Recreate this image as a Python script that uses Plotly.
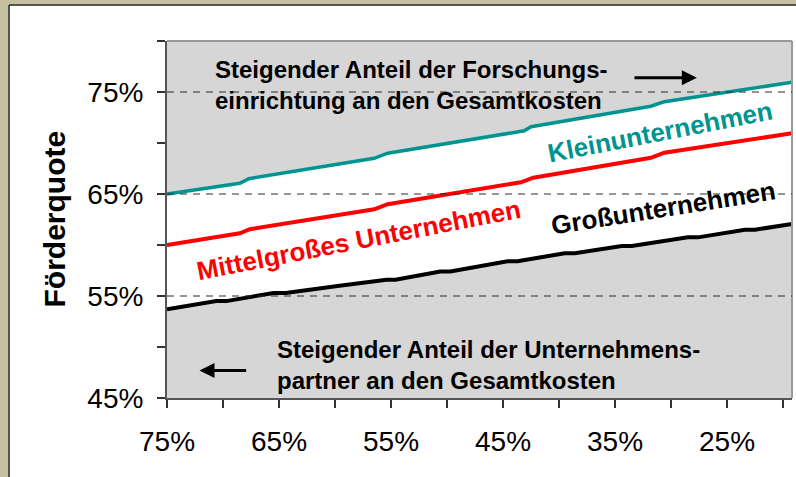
import plotly.graph_objects as go

# ---- data ----
klein_x = [75, 68.5, 67.7, 56.5, 55.3, 43.1, 42.5, 31.8, 30.6, 19.2]
klein_y = [65.0, 66.05, 66.5, 68.5, 69.0, 71.2, 71.6, 73.6, 74.05, 75.95]

mittel_x = [75, 68.5, 67.6, 56.5, 55.3, 43.4, 42.3, 31.8, 30.6, 19.2]
mittel_y = [60.0, 61.15, 61.55, 63.5, 64.0, 66.15, 66.6, 68.55, 69.05, 70.95]

gross_x = [75, 70.6, 69.7, 65.5, 64.4, 60.6, 59.6, 55.4, 54.6, 50.6, 49.7, 44.6, 43.7,
           39.5, 38.6, 34.4, 33.5, 28.5, 27.6, 23.4, 22.5, 19.2]
gross_y = [53.7, 54.5, 54.5, 55.3, 55.3, 55.9, 56.0, 56.6, 56.6, 57.4, 57.4, 58.4, 58.4,
           59.2, 59.2, 59.9, 59.9, 60.75, 60.75, 61.5, 61.5, 62.05]

x_tickvals = [75, 70, 65, 60, 55, 50, 45, 40, 35, 30, 25, 20]
x_ticktext = ["75%", "", "65%", "", "55%", "", "45%", "", "35%", "", "25%", ""]
y_tickvals = [45, 50, 55, 60, 65, 70, 75, 80]
y_ticktext = ["45%", "", "55%", "", "65%", "", "75%", ""]
ref_levels = [55, 65, 75]

x_range = [75, 19.2]
y_range = [45, 80]

TEAL = "#009490"
RED = "#FF0000"
BLACK = "#000000"
GRAY = "#D6D6D6"
FONT = "Liberation Sans, Arial, sans-serif"

fig = go.Figure()

# gray region above Kleinunternehmen
n_k = len(klein_x)
fig.add_trace(go.Scatter(x=klein_x + klein_x[::-1], y=klein_y + [y_range[1]] * n_k,
                         mode="lines", line=dict(color=GRAY, width=0.5),
                         fill="toself", fillcolor=GRAY))
# gray region below Großunternehmen
n_g = len(gross_x)
fig.add_trace(go.Scatter(x=gross_x + gross_x[::-1], y=gross_y + [y_range[0]] * n_g,
                         mode="lines", line=dict(color=GRAY, width=0.5),
                         fill="toself", fillcolor=GRAY))

fig.add_trace(go.Scatter(x=gross_x, y=gross_y, mode="lines",
                         line=dict(color=BLACK, width=4)))
fig.add_trace(go.Scatter(x=mittel_x, y=mittel_y, mode="lines",
                         line=dict(color=RED, width=4)))
fig.add_trace(go.Scatter(x=klein_x, y=klein_y, mode="lines",
                         line=dict(color=TEAL, width=3.5)))

annotations = [
    dict(x=70.9, y=75.7, xref="x", yref="y", xanchor="left", yanchor="middle", align="left",
         text="<b>Steigender Anteil der Forschungs-<br>einrichtung an den Gesamtkosten</b>",
         showarrow=False, font=dict(size=24, color="black", family=FONT)),
    dict(x=65.4, y=48.2, xref="x", yref="y", xanchor="left", yanchor="middle", align="left",
         text="<b>Steigender Anteil der Unternehmens-<br>partner an den Gesamtkosten</b>",
         showarrow=False, font=dict(size=24, color="black", family=FONT)),
    # arrows
    dict(x=27.7, y=76.4, ax=33.4, ay=76.4, xref="x", yref="y", axref="x", ayref="y",
         showarrow=True, arrowhead=2, arrowsize=1, arrowwidth=3, arrowcolor="black", text=""),
    dict(x=72.1, y=47.7, ax=67.8, ay=47.7, xref="x", yref="y", axref="x", ayref="y",
         showarrow=True, arrowhead=2, arrowsize=1, arrowwidth=3, arrowcolor="black", text=""),
    # series labels
    dict(x=31.0, y=71.1, xref="x", yref="y", text="<b>Kleinunternehmen</b>", showarrow=False,
         textangle=-11, font=dict(size=26, color=TEAL, family=FONT)),
    dict(x=57.9, y=60.5, xref="x", yref="y", text="<b>Mittelgroßes Unternehmen</b>", showarrow=False,
         textangle=-11, font=dict(size=26, color=RED, family=FONT)),
    dict(x=30.7, y=63.6, xref="x", yref="y", text="<b>Großunternehmen</b>", showarrow=False,
         textangle=-9, font=dict(size=26, color=BLACK, family=FONT)),
    # y title
    dict(x=(54 - 167) / 625, y=0.5, xref="paper", yref="paper", text="<b>Förderquote</b>",
         showarrow=False, textangle=-90, xanchor="center", yanchor="middle",
         font=dict(size=30, color="black", family=FONT)),
]

W, H = 796, 477
L, R, T, B = 167, 4, 41, 79
pw, ph = W - L - R, H - T - B

def px_x(p):
    return (p - L) / pw

def px_y(p):
    return 1 - (p - T) / ph

shapes = [
    # beige frame strips
    dict(type="rect", xref="paper", yref="paper", x0=px_x(0), x1=px_x(8.5), y0=px_y(H + 2), y1=px_y(-2),
         fillcolor="#C4C0A0", line=dict(width=0), layer="above"),
    dict(type="rect", xref="paper", yref="paper", x0=px_x(0), x1=px_x(W + 2), y0=px_y(4.5), y1=px_y(-2),
         fillcolor="#C4C0A0", line=dict(width=0), layer="above"),
    dict(type="line", xref="paper", yref="paper", x0=px_x(9), x1=px_x(9), y0=px_y(H + 2), y1=px_y(5),
         line=dict(color="#222222", width=1.5), layer="above"),
    dict(type="line", xref="paper", yref="paper", x0=px_x(9), x1=px_x(W + 2), y0=px_y(5), y1=px_y(5),
         line=dict(color="#222222", width=1.5), layer="above"),
    # top and right plot border
    dict(type="line", xref="paper", yref="paper", x0=0, x1=1, y0=1, y1=1,
         line=dict(color="#999999", width=2), layer="above"),
    dict(type="line", xref="paper", yref="paper", x0=1, x1=1, y0=0, y1=1,
         line=dict(color="#999999", width=2), layer="above"),
]
# dashed reference lines
for lv in ref_levels:
    shapes.append(dict(type="line", xref="paper", yref="y", x0=0, x1=1, y0=lv, y1=lv,
                       line=dict(color="#2a2a2a", width=1, dash="7px,6px"), layer="above"))

fig.update_layout(
    width=W, height=H,
    margin=dict(l=L, r=R, t=T, b=B, pad=0),
    paper_bgcolor="white",
    plot_bgcolor="white",
    font=dict(family=FONT, color="black"),
    annotations=annotations,
    shapes=shapes,
    showlegend=False,
)
fig.update_xaxes(
    range=x_range, tickmode="array", tickvals=x_tickvals, ticktext=x_ticktext,
    ticks="outside", ticklen=8, tickwidth=2, tickcolor="#333333",
    showline=True, linecolor="#555555", linewidth=2,
    showgrid=False, zeroline=False,
    tickfont=dict(size=28, color="black", family=FONT), ticklabelstandoff=9,
)
fig.update_yaxes(
    range=y_range, tickmode="array", tickvals=y_tickvals, ticktext=y_ticktext,
    ticks="outside", ticklen=8, tickwidth=2, tickcolor="#333333",
    showline=True, linecolor="#555555", linewidth=2,
    showgrid=False, zeroline=False,
    tickfont=dict(size=28, color="black", family=FONT), ticklabelstandoff=8,
)

fig.write_html("out.html", post_script="document.body.style.margin='0';",
               config={"displayModeBar": False})
